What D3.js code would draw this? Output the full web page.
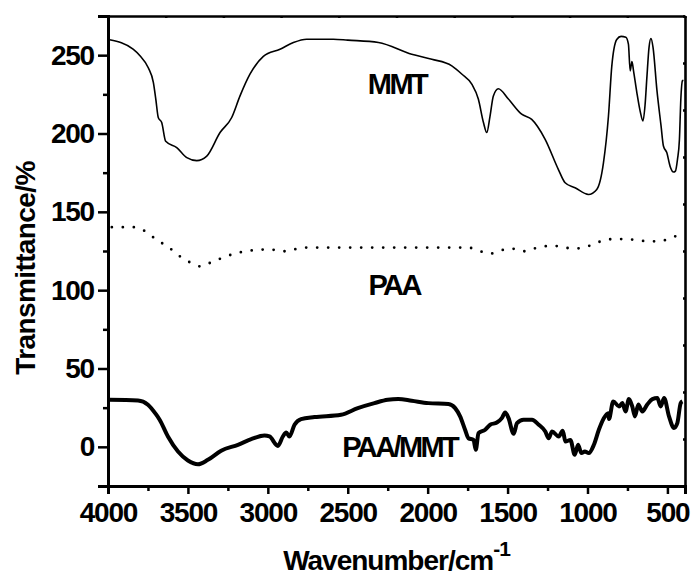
<!DOCTYPE html>
<html>
<head>
<meta charset="utf-8">
<script src="https://cdn.jsdelivr.net/npm/d3@7"></script>
<style>
  html, body { margin: 0; padding: 0; background: #fff; }
</style>
</head>
<body>
<div id="chart"></div>
<script>
// FTIR spectra, [wavenumber, transmittance]
const mmt = [
  [3990, 259.8], [3843, 253.8], [3800, 249.6], [3748, 242], [3716, 232.5],
  [3701, 222], [3685, 210], [3664, 207], [3639, 195], [3570, 191],
  [3507, 184.6], [3445, 182.7], [3382, 185.6], [3299, 200.6], [3226, 210.2],
  [3174, 224], [3111, 238], [3028, 249.2], [2924, 253.8], [2840, 258.1],
  [2757, 260.2], [2590, 260.2], [2500, 259.6], [2308, 258.1], [2100, 250.6],
  [1974, 247.4], [1849, 243.2], [1787, 238], [1724, 231.5], [1683, 222],
  [1651, 207], [1630, 200.6], [1610, 211], [1589, 224], [1558, 228.6],
  [1495, 222], [1412, 212.3], [1349, 209], [1265, 196.3], [1182, 177],
  [1140, 168.6], [1078, 165.4], [994, 161.1], [942, 164.3], [900, 181.4],
  [869, 211], [848, 243], [817, 260], [790, 262], [760, 261.5],
  [744, 257], [733, 240], [722, 246], [712, 240], [691, 226],
  [670, 214], [653, 208], [640, 218], [629, 235], [615, 255],
  [603, 260.6], [590, 255], [566, 228], [540, 205], [525, 192],
  [504, 187.8], [483, 179], [462, 175.4], [450, 176], [437, 183.5],
  [425, 196], [416, 222], [406, 233.6], [400, 234]
];

const paa = [
  [3976, 140.2], [3838, 140.2], [3767, 137.6], [3695, 132], [3623, 127.6],
  [3559, 122.2], [3492, 118], [3423, 115.2], [3349, 118], [3273, 121.1],
  [3201, 123.5], [3123, 125], [3051, 125.9], [2980, 125.9], [2904, 124.8],
  [2832, 126.1], [2760, 127.2], [2500, 127.2], [2200, 127.2], [1900, 127.2],
  [1808, 127.2], [1747, 127.2], [1676, 125], [1609, 123.3], [1533, 125.6],
  [1473, 126.5], [1401, 124.8], [1330, 126.7], [1282, 127.8], [1211, 128.3],
  [1135, 127], [1061, 126.7], [989, 128.3], [913, 131.3], [841, 132.6],
  [770, 132.6], [691, 132], [620, 131.1], [544, 131.3], [472, 133.6],
  [405, 136.3]
];

const paaMmt = [
  [3995, 30], [3812, 29.6], [3750, 26.9], [3698, 20.5], [3677, 17.3],
  [3625, 6.6], [3562, -3], [3500, -8.7], [3437, -11.1], [3375, -8.3],
  [3292, -2.5], [3187, 1.3], [3104, 4.9], [3021, 7.2], [2990, 6.6],
  [2937, 0.6], [2906, 6.6], [2885, 9.2], [2865, 6.6], [2833, 14.1],
  [2792, 17.7], [2708, 19], [2542, 20.5], [2437, 24.7], [2333, 27.9],
  [2250, 30], [2184, 30.5], [2100, 29.4], [1996, 27.9], [1870, 27.3],
  [1828, 24.7], [1797, 19.4], [1766, 10.9], [1745, 5.5], [1713, 4.4],
  [1699, -1.9], [1682, 8.7], [1640, 10.9], [1609, 14.1], [1567, 15.5],
  [1536, 18.3], [1515, 21.9], [1494, 18.3], [1462, 8.3], [1441, 15.1],
  [1400, 17.3], [1347, 17.3], [1305, 14.1], [1264, 9.8], [1243, 5.5],
  [1222, 9.8], [1180, 6.6], [1155, 10.3], [1138, 3.4], [1107, 4.4],
  [1080, -5.1], [1059, 1.3], [1038, -4], [1017, -3], [992, -4],
  [960, 1.3], [929, 10.9], [898, 18.3], [870, 21.5], [866, 17.7],
  [839, 29], [803, 25.8], [782, 27.9], [762, 22.6], [741, 30.5],
  [720, 25.8], [703, 19.4], [682, 27], [657, 22.6], [626, 27],
  [594, 30.5], [563, 31.2], [542, 25.8], [521, 31.2], [490, 19.4],
  [459, 12], [438, 15.1], [417, 27.9], [406, 29]
];

const seriesLabels = ['MMT', 'PAA', 'PAA/MMT'];
// label baselines, in data units
const labelAnchors = [[2192, 225], [2210, 97], [2175, -6.4]];

const xTicks = [4000, 3500, 3000, 2500, 2000, 1500, 1000, 500];
const xMinor = [3750, 3250, 2750, 2250, 1750, 1250, 750];
const yTicks = [0, 50, 100, 150, 200, 250];
const yMinor = [-25, 25, 75, 125, 175, 225];

const width = 695;
const height = 586;
const margin = { top: 16, right: 10, bottom: 100, left: 108 };
const font = '"Liberation Sans", Arial, sans-serif';

const svg = d3.select('#chart')
  .append('svg')
  .attr('width', width)
  .attr('height', height)
  .attr('font-family', font)
  .attr('font-weight', 'bold');

const x = d3.scaleLinear()
  .domain([4000, 390])
  .range([margin.left, width - margin.right]);
const y = d3.scaleLinear()
  .domain([-25, 275])
  .range([height - margin.bottom, margin.top]);

// mirror axes on top/right just carry ten tiny inward ticks
const xMirror = d3.scaleLinear().domain([0, 10]).range(x.range());
const yMirror = d3.scaleLinear().domain([0, 10]).range(y.range());

const line = d3.line()
  .x(d => x(d[0]))
  .y(d => y(d[1]))
  .curve(d3.curveMonotoneX);

svg.append('path')
  .attr('d', line(mmt))
  .attr('fill', 'none')
  .attr('stroke', '#000')
  .attr('stroke-width', 1.6);

svg.append('path')
  .attr('d', line(paa))
  .attr('fill', 'none')
  .attr('stroke', '#000')
  .attr('stroke-width', 2.8)
  .attr('stroke-linecap', 'round')
  .attr('stroke-dasharray', '0,11');

svg.append('path')
  .attr('d', line(paaMmt))
  .attr('fill', 'none')
  .attr('stroke', '#000')
  .attr('stroke-width', 4)
  .attr('stroke-linejoin', 'round');

const styleAxis = (g, w) => {
  g.select('.domain').attr('stroke-width', w);
  g.selectAll('.tick line').attr('stroke-width', 2.5);
  g.selectAll('.tick text')
    .attr('font-size', 28)
    .attr('font-family', font)
    .attr('font-weight', 'bold')
    .attr('letter-spacing', -1.2)
    .attr('fill', '#000');
};

// minor ticks first, majors on top
svg.append('g')
  .attr('transform', `translate(0,${y.range()[0]})`)
  .call(d3.axisBottom(x).tickValues(xMinor).tickSize(5).tickFormat(''))
  .call(g => styleAxis(g, 3));
svg.append('g')
  .attr('transform', `translate(0,${y.range()[0]})`)
  .call(d3.axisBottom(x).tickValues(xTicks).tickSize(8).tickPadding(8).tickFormat(d3.format('d')))
  .call(g => styleAxis(g, 3));

svg.append('g')
  .attr('transform', `translate(${x.range()[0]},0)`)
  .call(d3.axisLeft(y).tickValues(yMinor).tickSize(5).tickFormat(''))
  .call(g => styleAxis(g, 3));
svg.append('g')
  .attr('transform', `translate(${x.range()[0]},0)`)
  .call(d3.axisLeft(y).tickValues(yTicks).tickSize(10).tickPadding(4).tickFormat(d3.format('d')))
  .call(g => styleAxis(g, 3));

svg.append('g')
  .attr('transform', `translate(0,${y.range()[1]})`)
  .call(d3.axisBottom(xMirror).ticks(10).tickSize(2).tickSizeOuter(0).tickFormat(''))
  .call(g => styleAxis(g, 2.6));
svg.append('g')
  .attr('transform', `translate(${x.range()[1]},0)`)
  .call(d3.axisLeft(yMirror).ticks(10).tickSize(2).tickSizeOuter(0).tickFormat(''))
  .call(g => styleAxis(g, 2.6));

// series labels
svg.append('g')
  .selectAll('text')
  .data(seriesLabels)
  .join('text')
  .attr('x', (d, i) => x(labelAnchors[i][0]))
  .attr('y', (d, i) => y(labelAnchors[i][1]))
  .attr('text-anchor', 'middle')
  .attr('font-size', 29)
  .attr('letter-spacing', -2.6)
  .text(d => d);

// axis titles
const xTitle = svg.append('text')
  .attr('x', (x.range()[0] + x.range()[1]) / 2)
  .attr('y', 570)
  .attr('text-anchor', 'middle')
  .attr('font-size', 28)
  .attr('letter-spacing', -1);
xTitle.append('tspan').text('Wavenumber/cm');
xTitle.append('tspan').attr('dy', -14).attr('font-size', 21).text('-1');

svg.append('text')
  .attr('transform', 'translate(35,268) rotate(-90)')
  .attr('text-anchor', 'middle')
  .attr('font-size', 28)
  .attr('letter-spacing', -0.6)
  .text('Transmittance/%');
</script>
</body>
</html>
